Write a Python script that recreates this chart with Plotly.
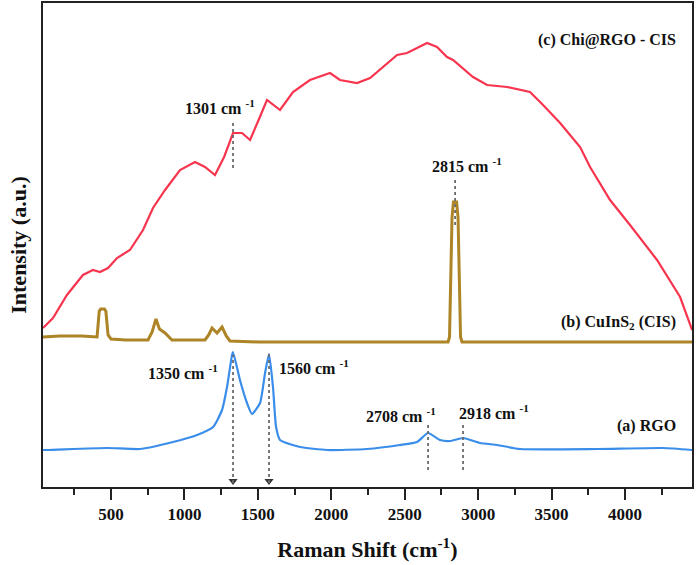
import plotly.graph_objects as go

# ---------------- data ----------------
# (c) Chi@RGO - CIS
chi_x = [37, 105, 200, 309, 377, 425, 480, 541, 629, 718, 786, 868, 970, 1072, 1140,
         1208, 1270, 1331, 1392, 1447, 1505, 1562, 1651, 1739, 1855, 1991, 2059, 2175,
         2264, 2380, 2448, 2516, 2584, 2652, 2720, 2788, 2829, 2965, 3061, 3197, 3353,
         3442, 3558, 3694, 3762, 3898, 4034, 4218, 4375, 4457]
chi_y = [159, 169, 192, 212, 217, 215, 219, 229, 237, 257, 279, 297, 317, 325, 320,
         312, 330, 354, 354, 347, 367, 387, 377, 395, 407, 414, 407, 404,
         409, 424, 432, 434, 439, 444, 440, 430, 427, 410, 402, 400, 395,
         382, 364, 340, 320, 287, 262, 227, 190, 157]

# (b) CuInS2 (CIS)
cis_x = [37, 150, 300, 400, 405, 420, 430, 455, 465, 480, 500, 600, 700, 752, 780,
         806, 830, 868, 915, 1000, 1140, 1165, 1188, 1222, 1256, 1285, 1310, 1500,
         2000, 2500, 2795, 2805, 2822, 2832, 2853, 2863, 2880, 2890, 3200, 3800, 4457]
cis_y = [150, 151, 151, 150, 150, 176, 178, 178, 176, 152, 148, 147, 147, 147, 155,
         168, 158, 154, 147, 147, 147, 152, 159, 154, 160, 151, 146, 145,
         145, 145, 145, 150, 270, 285, 285, 270, 150, 145, 145, 145, 145]

# (a) RGO
rgo_x = [37, 71, 473, 697, 922, 1086, 1195, 1256, 1290, 1324, 1331, 1378, 1426, 1460,
         1515, 1549, 1576, 1603, 1624, 1651, 1787, 1971, 2243, 2468, 2584, 2659, 2740,
         2808, 2897, 3013, 3129, 3285, 3810, 4259, 4457]
rgo_y = [37, 37, 39, 38, 45, 52, 60, 77, 100, 132, 135, 107, 84, 73,
         84, 114, 133, 100, 60, 47, 40, 37, 38, 42, 45, 54, 47,
         46, 49, 44, 42, 38, 38, 39, 37]

# peak markers
peak_pos = [1331, 2843, 1331, 1576, 2659, 2897]
peak_labels = ["1301", "2815", "1350", "1560", "2708", "2918"]

tick_vals = [500, 1000, 1500, 2000, 2500, 3000, 3500, 4000]
tick_text = ["500", "1000", "1500", "2000", "2500", "3000", "3500", "4000"]
minor_vals = [250, 750, 1250, 1750, 2250, 2750, 3250, 3750, 4250]

series_names = ["(a) RGO", "(b) CuInS<sub>2</sub> (CIS)", "(c) Chi@RGO - CIS"]

# ---------------- styling ----------------
FONT = "Liberation Serif"
RED = "#F7354F"
BROWN = "#AD8426"
BLUE = "#3A8EEA"
GREY = "#6b6b6b"

fig = go.Figure()
fig.add_trace(go.Scatter(x=chi_x, y=chi_y, mode="lines",
                         line=dict(color=RED, width=2.2), showlegend=False))
fig.add_trace(go.Scatter(x=cis_x, y=cis_y, mode="lines",
                         line=dict(color=BROWN, width=3), showlegend=False))
fig.add_trace(go.Scatter(x=rgo_x, y=rgo_y, mode="lines",
                         line=dict(color=BLUE, width=2.2, shape="spline", smoothing=0.5),
                         showlegend=False))

# dotted guide lines: (index in peak_pos, y0, y1)
guides = [(0, 319, 364), (1, 262, 307), (2, 4, 132), (3, 4, 133), (4, 17, 62), (5, 17, 64)]
for i, y0, y1 in guides:
    fig.add_shape(type="line", x0=peak_pos[i], x1=peak_pos[i], y0=y0, y1=y1,
                  xref="x", yref="y", line=dict(color=GREY, width=1.8, dash="dot"))

# arrow heads for 1350 / 1560
fig.add_trace(go.Scatter(x=[peak_pos[2], peak_pos[3]], y=[6, 6], mode="markers",
                         marker=dict(symbol="triangle-down", size=8, color="#333333"),
                         showlegend=False))

# peak labels: (index, x center, y)
label_pos = [(0, 1245, 380), (1, 2924, 322), (2, 990, 115), (3, 1880, 120),
             (4, 2475, 72), (5, 3105, 75)]
for i, xc, yc in label_pos:
    fig.add_annotation(x=xc, y=yc, xref="x", yref="y", showarrow=False,
                       text="<b>%s cm <sup>-1</sup></b>" % peak_labels[i],
                       font=dict(family=FONT, size=16, color="#111111"))

# series labels (right aligned)
for name, yc in zip(series_names, [61, 165, 447]):
    fig.add_annotation(x=4360, y=yc, xref="x", yref="y", showarrow=False,
                       xanchor="right", text="<b>%s</b>" % name,
                       font=dict(family=FONT, size=16, color="#111111"))

fig.update_layout(
    width=698, height=565,
    margin=dict(l=43, r=6, t=3, b=78),
    paper_bgcolor="white", plot_bgcolor="white",
    font=dict(family=FONT, color="#111111"),
)
fig.update_xaxes(
    range=[37, 4456], showgrid=False, zeroline=False, automargin=False,
    showline=True, mirror=True, linecolor="#222222", linewidth=2,
    tickmode="array", tickvals=tick_vals, ticktext=["<b>%s</b>" % t for t in tick_text],
    ticks="outside", ticklen=11, tickwidth=1.5, tickcolor="#222222",
    tickfont=dict(family=FONT, size=17, color="#111111"),
    minor=dict(tickmode="array", tickvals=minor_vals,
               ticks="outside", ticklen=6, tickwidth=1.5, tickcolor="#222222"),
    title=dict(text="<b>Raman Shift (cm<sup>-1</sup>)</b>", standoff=18,
               font=dict(family=FONT, size=22, color="#111111")),
)
fig.update_yaxes(
    range=[0, 484], showgrid=False, zeroline=False, showticklabels=False, ticks="",
    automargin=False,
    showline=True, mirror=True, linecolor="#222222", linewidth=2,
    title=dict(text="<b>Intensity (a.u.)</b>", standoff=8,
               font=dict(family=FONT, size=22, color="#111111")),
)

fig.write_html("out.html", config={"displayModeBar": False},
               post_script="document.body.style.margin='0px';document.body.style.overflow='hidden';")
